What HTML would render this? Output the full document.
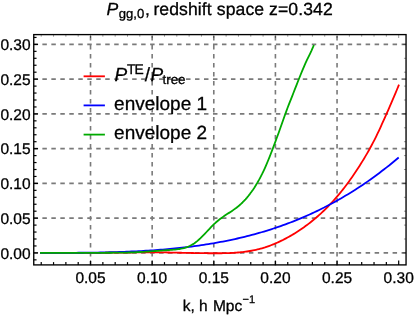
<!DOCTYPE html>
<html><head><meta charset="utf-8"><style>
html,body{margin:0;padding:0;background:#fff;}
svg{display:block;will-change:transform;font-family:"Liberation Sans",sans-serif;text-rendering:geometricPrecision;}
text{stroke:#000;stroke-width:0.3px;}
</style></head><body>
<svg width="415" height="315" viewBox="0 0 415 315">
<rect width="415" height="315" fill="#fff"/>
<g stroke="#7a7a7a" stroke-width="1.6" stroke-dasharray="4.5 4.5" fill="none"><line x1="90.53" y1="265.40" x2="90.53" y2="34.6"/><line x1="152.16" y1="265.40" x2="152.16" y2="34.6"/><line x1="213.79" y1="265.40" x2="213.79" y2="34.6"/><line x1="275.42" y1="265.40" x2="275.42" y2="34.6"/><line x1="337.05" y1="265.40" x2="337.05" y2="34.6"/><line x1="406.05" y1="252.90" x2="33.75" y2="252.90" stroke-dasharray="4.49 4.49"/><line x1="406.05" y1="218.15" x2="33.75" y2="218.15" stroke-dasharray="4.49 4.49"/><line x1="406.05" y1="183.40" x2="33.75" y2="183.40" stroke-dasharray="4.49 4.49"/><line x1="406.05" y1="148.65" x2="33.75" y2="148.65" stroke-dasharray="4.49 4.49"/><line x1="406.05" y1="113.90" x2="33.75" y2="113.90" stroke-dasharray="4.49 4.49"/><line x1="406.05" y1="79.15" x2="33.75" y2="79.15" stroke-dasharray="4.49 4.49"/><line x1="406.05" y1="44.40" x2="33.75" y2="44.40" stroke-dasharray="4.49 4.49"/></g>
<g fill="none" stroke-width="1.8" stroke-linejoin="round">
<path d="M40.0,252.90 L41.5,252.90 L43.0,252.90 L44.5,252.90 L46.0,252.90 L47.5,252.90 L49.0,252.90 L50.5,252.90 L52.0,252.90 L53.5,252.90 L55.0,252.90 L56.5,252.89 L58.0,252.89 L59.5,252.89 L61.0,252.89 L62.5,252.89 L64.0,252.89 L65.5,252.89 L67.0,252.88 L68.5,252.88 L70.0,252.88 L71.5,252.88 L73.0,252.88 L74.5,252.88 L76.0,252.87 L77.5,252.87 L79.0,252.87 L80.5,252.87 L82.0,252.86 L83.5,252.86 L85.0,252.86 L86.5,252.86 L88.0,252.85 L89.5,252.85 L91.0,252.85 L92.5,252.84 L94.0,252.84 L95.5,252.83 L97.0,252.83 L98.5,252.82 L100.0,252.81 L101.5,252.80 L103.0,252.79 L104.5,252.78 L106.0,252.77 L107.5,252.76 L109.0,252.75 L110.5,252.73 L112.0,252.72 L113.5,252.71 L115.0,252.70 L116.5,252.69 L118.0,252.67 L119.5,252.66 L121.0,252.65 L122.5,252.63 L124.0,252.61 L125.5,252.59 L127.0,252.57 L128.5,252.54 L130.0,252.52 L131.5,252.49 L133.0,252.47 L134.5,252.44 L136.0,252.42 L137.5,252.39 L139.0,252.37 L140.5,252.35 L142.0,252.32 L143.5,252.30 L145.0,252.29 L146.5,252.28 L148.0,252.27 L149.5,252.28 L151.0,252.29 L152.5,252.29 L154.0,252.31 L155.5,252.32 L157.0,252.33 L158.5,252.35 L160.0,252.37 L161.5,252.39 L163.0,252.41 L164.5,252.44 L166.0,252.46 L167.5,252.49 L169.0,252.51 L170.5,252.54 L172.0,252.57 L173.5,252.60 L175.0,252.63 L176.5,252.66 L178.0,252.70 L179.5,252.73 L181.0,252.76 L182.5,252.79 L184.0,252.82 L185.5,252.85 L187.0,252.89 L188.5,252.92 L190.0,252.95 L191.5,252.98 L193.0,253.01 L194.5,253.03 L196.0,253.06 L197.5,253.09 L199.0,253.11 L200.5,253.14 L202.0,253.16 L203.5,253.18 L205.0,253.20 L206.5,253.21 L208.0,253.23 L209.5,253.24 L211.0,253.25 L212.5,253.26 L214.0,253.26 L215.5,253.26 L217.0,253.26 L218.5,253.26 L220.0,253.25 L221.5,253.23 L223.0,253.21 L224.5,253.19 L226.0,253.15 L227.5,253.11 L229.0,253.05 L230.5,252.99 L232.0,252.92 L233.5,252.84 L235.0,252.74 L236.5,252.64 L238.0,252.52 L239.5,252.38 L241.0,252.24 L242.5,252.07 L244.0,251.89 L245.5,251.70 L247.0,251.49 L248.5,251.26 L250.0,251.01 L251.5,250.74 L253.0,250.45 L254.5,250.14 L256.0,249.81 L257.5,249.46 L259.0,249.09 L260.5,248.69 L262.0,248.27 L263.5,247.82 L265.0,247.36 L266.5,246.86 L268.0,246.35 L269.5,245.81 L271.0,245.25 L272.5,244.67 L274.0,244.06 L275.5,243.43 L277.0,242.78 L278.5,242.10 L280.0,241.40 L281.5,240.68 L283.0,239.94 L284.5,239.17 L286.0,238.39 L287.5,237.57 L289.0,236.74 L290.5,235.89 L292.0,235.01 L293.5,234.11 L295.0,233.19 L296.5,232.24 L298.0,231.28 L299.5,230.29 L301.0,229.28 L302.5,228.24 L304.0,227.19 L305.5,226.10 L307.0,225.00 L308.5,223.86 L310.0,222.70 L311.5,221.52 L313.0,220.31 L314.5,219.06 L316.0,217.79 L317.5,216.50 L319.0,215.17 L320.5,213.81 L322.0,212.42 L323.5,210.99 L325.0,209.54 L326.5,208.05 L328.0,206.53 L329.5,204.97 L331.0,203.38 L332.5,201.76 L334.0,200.10 L335.5,198.40 L337.0,196.67 L338.5,194.89 L340.0,193.09 L341.5,191.24 L343.0,189.35 L344.5,187.43 L346.0,185.46 L347.5,183.46 L349.0,181.42 L350.5,179.33 L352.0,177.21 L353.5,175.04 L355.0,172.83 L356.5,170.58 L358.0,168.29 L359.5,165.95 L361.0,163.57 L362.5,161.14 L364.0,158.67 L365.5,156.16 L367.0,153.59 L368.5,150.97 L370.0,148.29 L371.5,145.54 L373.0,142.70 L374.5,139.79 L376.0,136.78 L377.5,133.68 L379.0,130.51 L380.5,127.27 L382.0,123.98 L383.5,120.65 L385.0,117.29 L386.5,113.91 L388.0,110.52 L389.5,107.11 L391.0,103.67 L392.5,100.20 L394.0,96.69 L395.5,93.13 L397.0,89.50 L398.5,85.82 L399.0,84.57" stroke="#ff0000"/>
<path d="M40.0,252.90 L42.4,252.90 L44.8,252.90 L47.2,252.90 L49.6,252.89 L52.0,252.89 L54.4,252.89 L56.8,252.88 L59.3,252.88 L61.7,252.87 L64.1,252.86 L66.5,252.85 L68.9,252.84 L71.3,252.82 L73.7,252.81 L76.1,252.79 L78.5,252.77 L80.9,252.75 L83.3,252.73 L85.7,252.70 L88.1,252.67 L90.5,252.64 L93.0,252.61 L95.4,252.57 L97.8,252.53 L100.2,252.48 L102.6,252.43 L105.0,252.38 L107.4,252.33 L109.8,252.27 L112.2,252.20 L114.6,252.13 L117.0,252.06 L119.4,251.98 L121.8,251.90 L124.2,251.81 L126.7,251.72 L129.1,251.62 L131.5,251.51 L133.9,251.40 L136.3,251.29 L138.7,251.16 L141.1,251.04 L143.5,250.90 L145.9,250.76 L148.3,250.61 L150.7,250.45 L153.1,250.29 L155.5,250.12 L158.0,249.94 L160.4,249.76 L162.8,249.56 L165.2,249.36 L167.6,249.15 L170.0,248.93 L172.4,248.70 L174.8,248.47 L177.2,248.22 L179.6,247.96 L182.0,247.70 L184.4,247.42 L186.8,247.14 L189.2,246.84 L191.7,246.54 L194.1,246.22 L196.5,245.90 L198.9,245.56 L201.3,245.21 L203.7,244.85 L206.1,244.48 L208.5,244.10 L210.9,243.70 L213.3,243.29 L215.7,242.87 L218.1,242.44 L220.5,241.99 L222.9,241.54 L225.4,241.06 L227.8,240.58 L230.2,240.08 L232.6,239.57 L235.0,239.04 L237.4,238.50 L239.8,237.94 L242.2,237.37 L244.6,236.78 L247.0,236.18 L249.4,235.57 L251.8,234.93 L254.2,234.29 L256.6,233.62 L259.1,232.94 L261.5,232.24 L263.9,231.53 L266.3,230.80 L268.7,230.05 L271.1,229.29 L273.5,228.50 L275.9,227.70 L278.3,226.88 L280.7,226.04 L283.1,225.19 L285.5,224.31 L287.9,223.42 L290.4,222.50 L292.8,221.57 L295.2,220.62 L297.6,219.64 L300.0,218.65 L302.4,217.64 L304.8,216.60 L307.2,215.54 L309.6,214.47 L312.0,213.37 L314.4,212.25 L316.8,211.11 L319.2,209.94 L321.6,208.76 L324.1,207.55 L326.5,206.32 L328.9,205.06 L331.3,203.78 L333.7,202.48 L336.1,201.15 L338.5,199.80 L340.9,198.43 L343.3,197.03 L345.7,195.60 L348.1,194.16 L350.5,192.68 L352.9,191.18 L355.3,189.65 L357.8,188.10 L360.2,186.52 L362.6,184.92 L365.0,183.29 L367.4,181.63 L369.8,179.94 L372.2,178.23 L374.6,176.48 L377.0,174.71 L379.4,172.92 L381.8,171.09 L384.2,169.23 L386.6,167.35 L389.1,165.43 L391.5,163.49 L393.9,161.52 L396.3,159.51 L398.7,157.48" stroke="#0000ff"/>
<path d="M40.0,252.90 L41.5,252.90 L43.0,252.90 L44.5,252.90 L46.0,252.90 L47.5,252.90 L49.0,252.90 L50.5,252.90 L52.0,252.90 L53.5,252.90 L55.0,252.90 L56.5,252.89 L58.0,252.89 L59.5,252.89 L61.0,252.89 L62.5,252.89 L64.0,252.89 L65.5,252.89 L67.0,252.88 L68.5,252.88 L70.0,252.88 L71.5,252.88 L73.0,252.88 L74.5,252.88 L76.0,252.87 L77.5,252.87 L79.0,252.87 L80.5,252.87 L82.0,252.86 L83.5,252.86 L85.0,252.86 L86.5,252.86 L88.0,252.85 L89.5,252.85 L91.0,252.85 L92.5,252.84 L94.0,252.84 L95.5,252.83 L97.0,252.83 L98.5,252.82 L100.0,252.81 L101.5,252.80 L103.0,252.79 L104.5,252.78 L106.0,252.77 L107.5,252.76 L109.0,252.75 L110.5,252.74 L112.0,252.73 L113.5,252.71 L115.0,252.70 L116.5,252.69 L118.0,252.67 L119.5,252.66 L121.0,252.64 L122.5,252.62 L124.0,252.60 L125.5,252.58 L127.0,252.55 L128.5,252.52 L130.0,252.48 L131.5,252.44 L133.0,252.38 L134.5,252.32 L136.0,252.25 L137.5,252.17 L139.0,252.09 L140.5,252.00 L142.0,251.90 L143.5,251.80 L145.0,251.69 L146.5,251.59 L148.0,251.49 L149.5,251.40 L151.0,251.31 L152.5,251.20 L154.0,251.10 L155.5,250.99 L157.0,250.88 L158.5,250.77 L160.0,250.66 L161.5,250.56 L163.0,250.45 L164.5,250.34 L166.0,250.24 L167.5,250.13 L169.0,250.03 L170.5,249.93 L172.0,249.82 L173.5,249.71 L175.0,249.57 L176.5,249.41 L178.0,249.22 L179.5,248.99 L181.0,248.72 L182.5,248.40 L184.0,248.02 L185.5,247.58 L187.0,247.06 L188.5,246.47 L190.0,245.79 L191.5,245.01 L193.0,244.14 L194.5,243.15 L196.0,242.05 L197.5,240.84 L199.0,239.53 L200.5,238.15 L202.0,236.69 L203.5,235.17 L205.0,233.60 L206.5,231.99 L208.0,230.38 L209.5,228.77 L211.0,227.19 L212.5,225.66 L214.0,224.19 L215.5,222.80 L217.0,221.49 L218.5,220.24 L220.0,219.06 L221.5,217.94 L223.0,216.87 L224.5,215.84 L226.0,214.84 L227.5,213.85 L229.0,212.88 L230.5,211.90 L232.0,210.90 L233.5,209.87 L235.0,208.81 L236.5,207.69 L238.0,206.51 L239.5,205.25 L241.0,203.91 L242.5,202.48 L244.0,200.95 L245.5,199.32 L247.0,197.60 L248.5,195.77 L250.0,193.84 L251.5,191.81 L253.0,189.66 L254.5,187.40 L256.0,185.02 L257.5,182.52 L259.0,179.88 L260.5,177.09 L262.0,174.16 L263.5,171.06 L265.0,167.80 L266.5,164.37 L268.0,160.77 L269.5,157.05 L271.0,153.22 L272.5,149.31 L274.0,145.36 L275.5,141.36 L277.0,137.31 L278.5,133.20 L280.0,129.01 L281.5,124.76 L283.0,120.49 L284.5,116.25 L286.0,112.09 L287.5,108.06 L289.0,104.16 L290.5,100.35 L292.0,96.57 L293.5,92.78 L295.0,88.95 L296.5,85.11 L298.0,81.28 L299.5,77.50 L301.0,73.77 L302.5,70.14 L304.0,66.61 L305.5,63.22 L307.0,59.98 L308.5,56.87 L310.0,53.77 L311.5,50.58 L313.0,47.19 L313.9,45.01" stroke="#00aa00"/>
</g>
<g stroke="#000" stroke-width="1.2" fill="none"><line x1="41.23" y1="264.9" x2="41.23" y2="262.09999999999997"/><line x1="53.55" y1="264.9" x2="53.55" y2="262.09999999999997"/><line x1="65.88" y1="264.9" x2="65.88" y2="262.09999999999997"/><line x1="78.20" y1="264.9" x2="78.20" y2="262.09999999999997"/><line x1="90.53" y1="264.9" x2="90.53" y2="260.59999999999997"/><line x1="102.86" y1="264.9" x2="102.86" y2="262.09999999999997"/><line x1="115.18" y1="264.9" x2="115.18" y2="262.09999999999997"/><line x1="127.51" y1="264.9" x2="127.51" y2="262.09999999999997"/><line x1="139.83" y1="264.9" x2="139.83" y2="262.09999999999997"/><line x1="152.16" y1="264.9" x2="152.16" y2="260.59999999999997"/><line x1="164.49" y1="264.9" x2="164.49" y2="262.09999999999997"/><line x1="176.81" y1="264.9" x2="176.81" y2="262.09999999999997"/><line x1="189.14" y1="264.9" x2="189.14" y2="262.09999999999997"/><line x1="201.46" y1="264.9" x2="201.46" y2="262.09999999999997"/><line x1="213.79" y1="264.9" x2="213.79" y2="260.59999999999997"/><line x1="226.12" y1="264.9" x2="226.12" y2="262.09999999999997"/><line x1="238.44" y1="264.9" x2="238.44" y2="262.09999999999997"/><line x1="250.77" y1="264.9" x2="250.77" y2="262.09999999999997"/><line x1="263.09" y1="264.9" x2="263.09" y2="262.09999999999997"/><line x1="275.42" y1="264.9" x2="275.42" y2="260.59999999999997"/><line x1="287.75" y1="264.9" x2="287.75" y2="262.09999999999997"/><line x1="300.07" y1="264.9" x2="300.07" y2="262.09999999999997"/><line x1="312.40" y1="264.9" x2="312.40" y2="262.09999999999997"/><line x1="324.72" y1="264.9" x2="324.72" y2="262.09999999999997"/><line x1="337.05" y1="264.9" x2="337.05" y2="260.59999999999997"/><line x1="349.38" y1="264.9" x2="349.38" y2="262.09999999999997"/><line x1="361.70" y1="264.9" x2="361.70" y2="262.09999999999997"/><line x1="374.03" y1="264.9" x2="374.03" y2="262.09999999999997"/><line x1="386.35" y1="264.9" x2="386.35" y2="262.09999999999997"/><line x1="398.68" y1="264.9" x2="398.68" y2="260.59999999999997"/><line x1="33.75" y1="259.85" x2="36.55" y2="259.85"/><line x1="33.75" y1="252.90" x2="38.05" y2="252.90"/><line x1="33.75" y1="245.95" x2="36.55" y2="245.95"/><line x1="33.75" y1="239.00" x2="36.55" y2="239.00"/><line x1="33.75" y1="232.05" x2="36.55" y2="232.05"/><line x1="33.75" y1="225.10" x2="36.55" y2="225.10"/><line x1="33.75" y1="218.15" x2="38.05" y2="218.15"/><line x1="33.75" y1="211.20" x2="36.55" y2="211.20"/><line x1="33.75" y1="204.25" x2="36.55" y2="204.25"/><line x1="33.75" y1="197.30" x2="36.55" y2="197.30"/><line x1="33.75" y1="190.35" x2="36.55" y2="190.35"/><line x1="33.75" y1="183.40" x2="38.05" y2="183.40"/><line x1="33.75" y1="176.45" x2="36.55" y2="176.45"/><line x1="33.75" y1="169.50" x2="36.55" y2="169.50"/><line x1="33.75" y1="162.55" x2="36.55" y2="162.55"/><line x1="33.75" y1="155.60" x2="36.55" y2="155.60"/><line x1="33.75" y1="148.65" x2="38.05" y2="148.65"/><line x1="33.75" y1="141.70" x2="36.55" y2="141.70"/><line x1="33.75" y1="134.75" x2="36.55" y2="134.75"/><line x1="33.75" y1="127.80" x2="36.55" y2="127.80"/><line x1="33.75" y1="120.85" x2="36.55" y2="120.85"/><line x1="33.75" y1="113.90" x2="38.05" y2="113.90"/><line x1="33.75" y1="106.95" x2="36.55" y2="106.95"/><line x1="33.75" y1="100.00" x2="36.55" y2="100.00"/><line x1="33.75" y1="93.05" x2="36.55" y2="93.05"/><line x1="33.75" y1="86.10" x2="36.55" y2="86.10"/><line x1="33.75" y1="79.15" x2="38.05" y2="79.15"/><line x1="33.75" y1="72.20" x2="36.55" y2="72.20"/><line x1="33.75" y1="65.25" x2="36.55" y2="65.25"/><line x1="33.75" y1="58.30" x2="36.55" y2="58.30"/><line x1="33.75" y1="51.35" x2="36.55" y2="51.35"/><line x1="33.75" y1="44.40" x2="38.05" y2="44.40"/><line x1="33.75" y1="37.45" x2="36.55" y2="37.45"/></g>
<g stroke="#000" stroke-width="0.4" fill="none"><line x1="41.23" y1="34.6" x2="41.23" y2="36.7"/><line x1="53.55" y1="34.6" x2="53.55" y2="36.7"/><line x1="65.88" y1="34.6" x2="65.88" y2="36.7"/><line x1="78.20" y1="34.6" x2="78.20" y2="36.7"/><line x1="90.53" y1="34.6" x2="90.53" y2="38.0"/><line x1="102.86" y1="34.6" x2="102.86" y2="36.7"/><line x1="115.18" y1="34.6" x2="115.18" y2="36.7"/><line x1="127.51" y1="34.6" x2="127.51" y2="36.7"/><line x1="139.83" y1="34.6" x2="139.83" y2="36.7"/><line x1="152.16" y1="34.6" x2="152.16" y2="38.0"/><line x1="164.49" y1="34.6" x2="164.49" y2="36.7"/><line x1="176.81" y1="34.6" x2="176.81" y2="36.7"/><line x1="189.14" y1="34.6" x2="189.14" y2="36.7"/><line x1="201.46" y1="34.6" x2="201.46" y2="36.7"/><line x1="213.79" y1="34.6" x2="213.79" y2="38.0"/><line x1="226.12" y1="34.6" x2="226.12" y2="36.7"/><line x1="238.44" y1="34.6" x2="238.44" y2="36.7"/><line x1="250.77" y1="34.6" x2="250.77" y2="36.7"/><line x1="263.09" y1="34.6" x2="263.09" y2="36.7"/><line x1="275.42" y1="34.6" x2="275.42" y2="38.0"/><line x1="287.75" y1="34.6" x2="287.75" y2="36.7"/><line x1="300.07" y1="34.6" x2="300.07" y2="36.7"/><line x1="312.40" y1="34.6" x2="312.40" y2="36.7"/><line x1="324.72" y1="34.6" x2="324.72" y2="36.7"/><line x1="337.05" y1="34.6" x2="337.05" y2="38.0"/><line x1="349.38" y1="34.6" x2="349.38" y2="36.7"/><line x1="361.70" y1="34.6" x2="361.70" y2="36.7"/><line x1="374.03" y1="34.6" x2="374.03" y2="36.7"/><line x1="386.35" y1="34.6" x2="386.35" y2="36.7"/><line x1="398.68" y1="34.6" x2="398.68" y2="38.0"/><line x1="406.05" y1="252.90" x2="402.65000000000003" y2="252.90"/><line x1="406.05" y1="239.00" x2="403.95" y2="239.00"/><line x1="406.05" y1="225.10" x2="403.95" y2="225.10"/><line x1="406.05" y1="211.20" x2="403.95" y2="211.20"/><line x1="406.05" y1="197.30" x2="403.95" y2="197.30"/><line x1="406.05" y1="183.40" x2="402.65000000000003" y2="183.40"/><line x1="406.05" y1="169.50" x2="403.95" y2="169.50"/><line x1="406.05" y1="155.60" x2="403.95" y2="155.60"/><line x1="406.05" y1="141.70" x2="403.95" y2="141.70"/><line x1="406.05" y1="127.80" x2="403.95" y2="127.80"/><line x1="406.05" y1="113.90" x2="402.65000000000003" y2="113.90"/><line x1="406.05" y1="100.00" x2="403.95" y2="100.00"/><line x1="406.05" y1="86.10" x2="403.95" y2="86.10"/><line x1="406.05" y1="72.20" x2="403.95" y2="72.20"/><line x1="406.05" y1="58.30" x2="403.95" y2="58.30"/><line x1="406.05" y1="44.40" x2="402.65000000000003" y2="44.40"/></g>
<rect x="33.75" y="34.6" width="372.3" height="230.29999999999998" fill="none" stroke="#000" stroke-width="1.35"/>
<g font-size="15.5px" fill="#000"><text x="90.53" y="283.3" text-anchor="middle">0.05</text><text x="152.16" y="283.3" text-anchor="middle">0.10</text><text x="213.79" y="283.3" text-anchor="middle">0.15</text><text x="275.42" y="283.3" text-anchor="middle">0.20</text><text x="337.05" y="283.3" text-anchor="middle">0.25</text><text x="398.68" y="283.3" text-anchor="middle">0.30</text><text x="30.6" y="258.50" text-anchor="end">0.00</text><text x="30.6" y="223.75" text-anchor="end">0.05</text><text x="30.6" y="189.00" text-anchor="end">0.10</text><text x="30.6" y="154.25" text-anchor="end">0.15</text><text x="30.6" y="119.50" text-anchor="end">0.20</text><text x="30.6" y="84.75" text-anchor="end">0.25</text><text x="30.6" y="50.00" text-anchor="end">0.30</text></g>
<g stroke-width="1.8">
<line x1="83.6" y1="76.3" x2="104.9" y2="76.3" stroke="#ff0000"/>
<line x1="83.6" y1="105.4" x2="104.9" y2="105.4" stroke="#0000ff"/>
<line x1="83.6" y1="134.6" x2="104.9" y2="134.6" stroke="#00aa00"/>
</g>
<g font-size="19px" fill="#000">
<text x="114.4" y="80.9"><tspan font-style="italic">P</tspan><tspan font-size="13.8px" dy="-6.8" dx="-0.2" letter-spacing="-0.7">TE</tspan><tspan dy="6.8" dx="1.6">/</tspan><tspan font-style="italic" dx="0.4">P</tspan><tspan font-size="13.4px" dy="3.5" dx="-0.6">tree</tspan></text>
<text x="114.1" y="110.2">envelope 1</text>
<text x="114.1" y="139.0">envelope 2</text>
</g>
<text x="106.6" y="15.1" font-size="17.6px" fill="#000"><tspan font-style="italic">P</tspan><tspan font-size="13.1px" dy="3.2" dx="0.4">gg,0</tspan><tspan dy="-3.2" dx="0.8">,</tspan><tspan dx="3.5" letter-spacing="0.085">redshift space z=0.342</tspan></text>
<text x="182.7" y="310.6" font-size="15.5px" fill="#000">k, h <tspan dx="0.9">Mpc</tspan><tspan font-size="11px" dy="-7.2" dx="0.3">−1</tspan></text>
</svg>
</body></html>
